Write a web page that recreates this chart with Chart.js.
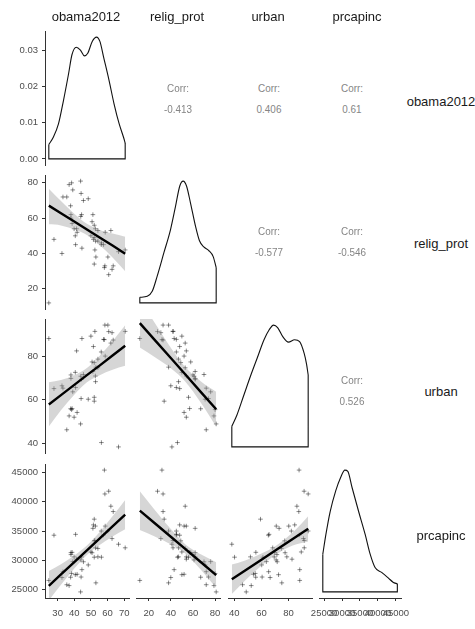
<!DOCTYPE html>
<html>
<head>
<meta charset="utf-8">
<script src="https://cdn.jsdelivr.net/npm/chart.js@4.4.1/dist/chart.umd.min.js"></script>
<style>
    body { margin: 0; background: #fff; width: 475px; height: 629px; overflow: hidden; position: relative;
           font-family: "Liberation Sans", Arial, sans-serif; }
    canvas { position: absolute; }
    .strip { position: absolute; font-size: 13px; color: #1a1a1a; white-space: nowrap; transform: translate(-50%, -50%); }
    .corr { position: absolute; font-size: 11px; color: #858585; text-align: center; line-height: 21px;
            white-space: nowrap; transform: translate(-50%, -50%) scaleX(0.9); }
</style>
</head>
<body>
<script>
// one value per state (AL ... WY)
var states = ['AL','AK','AZ','AR','CA','CO','CT','DE','FL','GA','HI','ID','IL','IN','IA','KS','KY','LA','ME','MD',
              'MA','MI','MN','MS','MO','MT','NE','NV','NH','NJ','NM','NY','NC','ND','OH','OK','OR','PA','RI','SC',
              'SD','TN','TX','UT','VT','VA','WA','WV','WI','WY'];
var obama2012 = [38.4,40.8,44.6,36.9,60.2,51.5,58.1,58.6,50.0,45.5,70.6,32.6,57.6,43.9,52.0,38.0,37.8,40.6,56.3,62.0,
                 60.7,54.2,52.7,43.8,44.4,41.7,38.0,52.4,52.0,58.4,53.0,63.4,48.4,38.7,50.7,33.2,54.2,52.0,62.7,44.1,
                 39.9,39.1,41.4,24.7,66.6,51.2,56.2,35.5,52.8,27.8];
var relig_prot = [80,45,43,79,38,48,32,52,50,70,42,40,45,61,56,60,67,50,46,53,
                  28,53,54,81,62,52,62,42,34,33,38,33,71,57,58,72,47,49,31,74,
                  54,76,54,12,41,62,45,72,47,48];
var urban = [55.4,65.6,88.2,52.5,94.4,84.5,87.7,80.1,89.3,71.6,91.5,66.4,87.8,70.8,61.1,71.4,55.8,72.6,40.2,86.1,
             91.4,74.7,70.9,48.8,69.4,54.1,69.8,91.5,59.3,94.4,75.0,87.5,60.2,55.9,77.4,65.3,78.7,77.1,90.9,60.5,
             51.9,63.6,82.5,88.2,38.2,73.0,82.0,46.1,68.3,65.1];
var prcapinc = [27795,34454,28442,25724,35019,36063,45398,35861,31455,29782,32160,27098,34351,30094,30560,31003,27151,27581,30566,39247,
                41801,32052,35861,24650,30608,27657,31339,33405,37040,41332,26191,38333,29246,31395,31322,28089,30621,33348,33733,27185,
                30617,29806,30222,26606,32770,35477,35017,25872,32157,34306];

var varNames = ['obama2012', 'relig_prot', 'urban', 'prcapinc'];

// tick labels
var obamaTicks = [30, 40, 50, 60, 70];
var religTicks = [20, 40, 60, 80];
var urbanTicks = [40, 60, 80];
var incomeTicks = [25000, 30000, 35000, 40000, 45000];
var densityTicks = [0, 0.01, 0.02, 0.03];

// diagonal density curves
var obamaDensX = [24.7, 27.4, 30.5, 33.5, 36.6, 38.6, 41.2, 43.7, 46.1, 48.1, 50.8, 53.4, 55.4, 57.8, 60.9, 63.9, 67.0, 69.6, 70.6];
var obamaDensY = [0.0040, 0.0060, 0.0097, 0.0162, 0.0237, 0.0289, 0.0310, 0.0302, 0.0286, 0.0293, 0.0326, 0.0338, 0.0326, 0.0279, 0.0218, 0.0153, 0.0097, 0.0060, 0.0044];
var religDensX = [12, 18.7, 23.2, 27.7, 33.7, 39.7, 44.2, 48.1, 51.2, 54.2, 57.8, 62.3, 65.9, 69.8, 74.3, 78.3, 81];
var religDensY = [0.046, 0.054, 0.095, 0.22, 0.41, 0.60, 0.79, 0.96, 1.0, 0.96, 0.82, 0.63, 0.51, 0.46, 0.43, 0.38, 0.29];
var urbanDensX = [38.2, 41.9, 46.9, 51.9, 56.9, 61.9, 65.6, 68.9, 71.9, 75.7, 79.9, 84.4, 88.1, 91.4, 93.2, 94.4];
var urbanDensY = [0.17, 0.26, 0.42, 0.58, 0.73, 0.88, 0.96, 1.0, 0.98, 0.905, 0.86, 0.88, 0.865, 0.77, 0.68, 0.59];
var incomeDensX = [24650, 25500, 26700, 28240, 29610, 30790, 31610, 32810, 34620, 36460, 37830, 39200, 41030, 42850, 44200, 45398];
var incomeDensY = [0.31, 0.47, 0.66, 0.83, 0.94, 1.0, 0.99, 0.855, 0.66, 0.47, 0.31, 0.20, 0.16, 0.115, 0.08, 0.066];

// fitted lines with their grey bands
var fitObamaRelig = { x: [24.7, 32, 40, 47.6, 55, 63, 70.6],
    fit: [67.1, 62.8, 58.1, 53.6, 49.2, 44.5, 39.9],
    lo:  [56.5, 55.9, 53.7, 50.4, 44.9, 37.7, 30.0],
    hi:  [76.6, 69.7, 62.5, 56.8, 53.5, 51.3, 49.5] };
var fitObamaUrban = { x: [24.7, 32, 40, 47.6, 55, 63, 70.6],
    fit: [57.8, 62.1, 66.8, 71.3, 75.6, 80.4, 84.9],
    lo:  [47.6, 55.1, 62.3, 68.0, 71.2, 73.8, 75.6],
    hi:  [68.0, 69.1, 71.3, 74.6, 80.0, 87.0, 94.3] };
var fitReligUrban = { x: [12, 25, 40, 53.2, 67, 81],
    fit: [95.3, 87.8, 79.2, 71.6, 63.6, 55.6],
    lo:  [84.1, 79.8, 74.5, 68.3, 58.7, 47.6],
    hi:  [106.5, 95.8, 84.0, 74.9, 68.5, 63.6] };
var fitObamaIncome = { x: [24.7, 32, 40, 47.6, 55, 63, 70.6],
    fit: [25690, 27620, 29730, 31740, 33690, 35800, 37810],
    lo:  [23190, 25870, 28630, 30940, 32610, 34080, 35310],
    hi:  [28190, 29370, 30830, 32540, 34770, 37520, 40310] };
var fitReligIncome = { x: [12, 25, 40, 53, 67, 81],
    fit: [38500, 36430, 34050, 31980, 29750, 27520],
    lo:  [35200, 34130, 32750, 31180, 28450, 25320],
    hi:  [41800, 38730, 35350, 32780, 31050, 29720] };
var fitUrbanIncome = { x: [38.2, 48, 60, 71, 83, 94.4],
    fit: [26800, 28300, 30140, 31820, 33660, 35400],
    lo:  [24300, 26600, 29090, 31070, 32560, 33250],
    hi:  [29300, 30000, 31190, 32570, 34760, 37550] };

var corrLabels = { '0-1': '-0.413', '0-2': '0.406', '0-3': '0.61', '1-2': '-0.577', '1-3': '-0.546', '2-3': '0.526' };

// layout of the 4x4 grid
var colLeft = [45, 136, 228, 318];
var rowTop = [31, 175, 319, 464];
var panelW = 84, panelH = 134, margin = 15;
var fontFamily = '"Liberation Sans", Arial, sans-serif';

var vars = [obama2012, relig_prot, urban, prcapinc];
var ticksList = [obamaTicks, religTicks, urbanTicks, incomeTicks];
var densX = [obamaDensX, religDensX, urbanDensX, incomeDensX];
var densY = [obamaDensY, religDensY, urbanDensY, incomeDensY];
var fits = { '1-0': fitObamaRelig, '2-0': fitObamaUrban, '2-1': fitReligUrban,
             '3-0': fitObamaIncome, '3-1': fitReligIncome, '3-2': fitUrbanIncome };

function padRange(arr) {
    var lo = Math.min.apply(null, arr), hi = Math.max.apply(null, arr);
    var d = hi - lo;
    return [lo - 0.05 * d, hi + 0.05 * d];
}

function axisOptions(show, range, tickVals, dir, fmt) {
    return {
        type: 'linear', min: range[0], max: range[1], display: show,
        afterBuildTicks: function (s) { s.ticks = tickVals.map(function (v) { return { value: v }; }); },
        afterFit: function (s) {
            if (!show) return;
            if (dir === 'x') s.height = 629 - (rowTop[3] + panelH);
            else s.width = colLeft[0];
        },
        grid: { drawOnChartArea: false, color: '#333', tickLength: 3, lineWidth: 1 },
        border: { display: true, color: '#333', width: 1 },
        ticks: { autoSkip: false, maxRotation: 0, minRotation: 0, color: '#4d4d4d',
                 font: { family: fontFamily, size: 9.5 }, padding: dir === 'x' ? 7 : 4, callback: fmt }
    };
}

function plainFmt(v) { return String(v); }
function densFmt(v) { return v.toFixed(2); }

function pointsSet(xs, ys) {
    return { data: xs.map(function (v, i) { return { x: v, y: ys[i] }; }),
             pointStyle: 'cross', pointRadius: 2.3, borderWidth: 1,
             borderColor: 'rgba(0,0,0,0.45)', backgroundColor: 'rgba(0,0,0,0.45)', order: 3 };
}

function fitSets(f) {
    var lo = { type: 'line', data: f.x.map(function (v, i) { return { x: v, y: f.lo[i] }; }),
               borderWidth: 0, pointRadius: 0, fill: false, cubicInterpolationMode: 'monotone', order: 2 };
    var hi = { type: 'line', data: f.x.map(function (v, i) { return { x: v, y: f.hi[i] }; }),
               borderWidth: 0, pointRadius: 0, fill: '-1', backgroundColor: 'rgba(153,153,153,0.4)',
               cubicInterpolationMode: 'monotone', order: 2 };
    var line = { type: 'line', data: f.x.map(function (v, i) { return { x: v, y: f.fit[i] }; }),
                 borderColor: '#000', borderWidth: 2.4, pointRadius: 0, fill: false, tension: 0, order: 1 };
    return [lo, hi, line];
}

function densitySets(xs, ys) {
    var n = xs.length;
    var curve = { type: 'line', data: xs.map(function (v, i) { return { x: v, y: ys[i] }; }),
                  borderColor: '#111', borderWidth: 1.1, pointRadius: 0, fill: false, cubicInterpolationMode: 'monotone' };
    var frame = { type: 'line', data: [{ x: xs[0], y: ys[0] }, { x: xs[0], y: 0 }, { x: xs[n - 1], y: 0 }, { x: xs[n - 1], y: ys[n - 1] }],
                  borderColor: '#111', borderWidth: 1.1, pointRadius: 0, fill: false, tension: 0 };
    return [curve, frame];
}

function addPanel(r, c, datasets, xr, yr, yTicks, yFmt) {
    var x0 = c === 0 ? 0 : colLeft[c] - margin;
    var y0 = rowTop[r] - margin;
    var x1 = colLeft[c] + panelW + margin;
    var y1 = r === 3 ? 629 : rowTop[r] + panelH + margin;
    var cv = document.createElement('canvas');
    cv.width = x1 - x0;
    cv.height = y1 - y0;
    cv.style.left = x0 + 'px';
    cv.style.top = y0 + 'px';
    document.body.appendChild(cv);
    new Chart(cv, {
        type: 'scatter',
        data: { datasets: datasets },
        options: {
            responsive: false, animation: false, devicePixelRatio: 1, events: [],
            layout: { padding: { left: c === 0 ? 0 : margin, right: margin, top: margin, bottom: r === 3 ? 0 : margin } },
            plugins: { legend: { display: false }, tooltip: { enabled: false } },
            scales: {
                x: axisOptions(r === 3, xr, ticksList[c], 'x', plainFmt),
                y: axisOptions(c === 0, yr, yTicks, 'y', yFmt)
            }
        }
    });
}

function addText(cls, html, x, y) {
    var d = document.createElement('div');
    d.className = cls;
    d.innerHTML = html;
    d.style.left = x + 'px';
    d.style.top = y + 'px';
    document.body.appendChild(d);
}

var ranges = vars.map(padRange);

for (var r = 0; r < 4; r++) {
    for (var c = 0; c < 4; c++) {
        if (r === c) {
            var dr = padRange([0].concat(densY[r]));
            if (r === 0) addPanel(r, c, densitySets(densX[r], densY[r]), ranges[c], dr, densityTicks, densFmt);
            else addPanel(r, c, densitySets(densX[r], densY[r]), ranges[c], dr, ticksList[r], plainFmt);
        } else if (r > c) {
            var sets = [pointsSet(vars[c], vars[r])].concat(fitSets(fits[r + '-' + c]));
            addPanel(r, c, sets, ranges[c], ranges[r], ticksList[r], plainFmt);
        }
    }
}

// correlation text in the upper panels
var corrX = [0, 178, 269, 352];
var corrY = [99, 242, 391];
Object.keys(corrLabels).forEach(function (k) {
    var rc = k.split('-');
    addText('corr', 'Corr:<br>' + corrLabels[k], corrX[+rc[1]], corrY[+rc[0]]);
});

// strip labels
var stripTopX = [86, 177, 268, 357];
var stripRightY = [101, 243, 391, 535];
varNames.forEach(function (name, i) {
    addText('strip', name, stripTopX[i], 16);
    addText('strip', name, 441, stripRightY[i]);
});
</script>
</body>
</html>
